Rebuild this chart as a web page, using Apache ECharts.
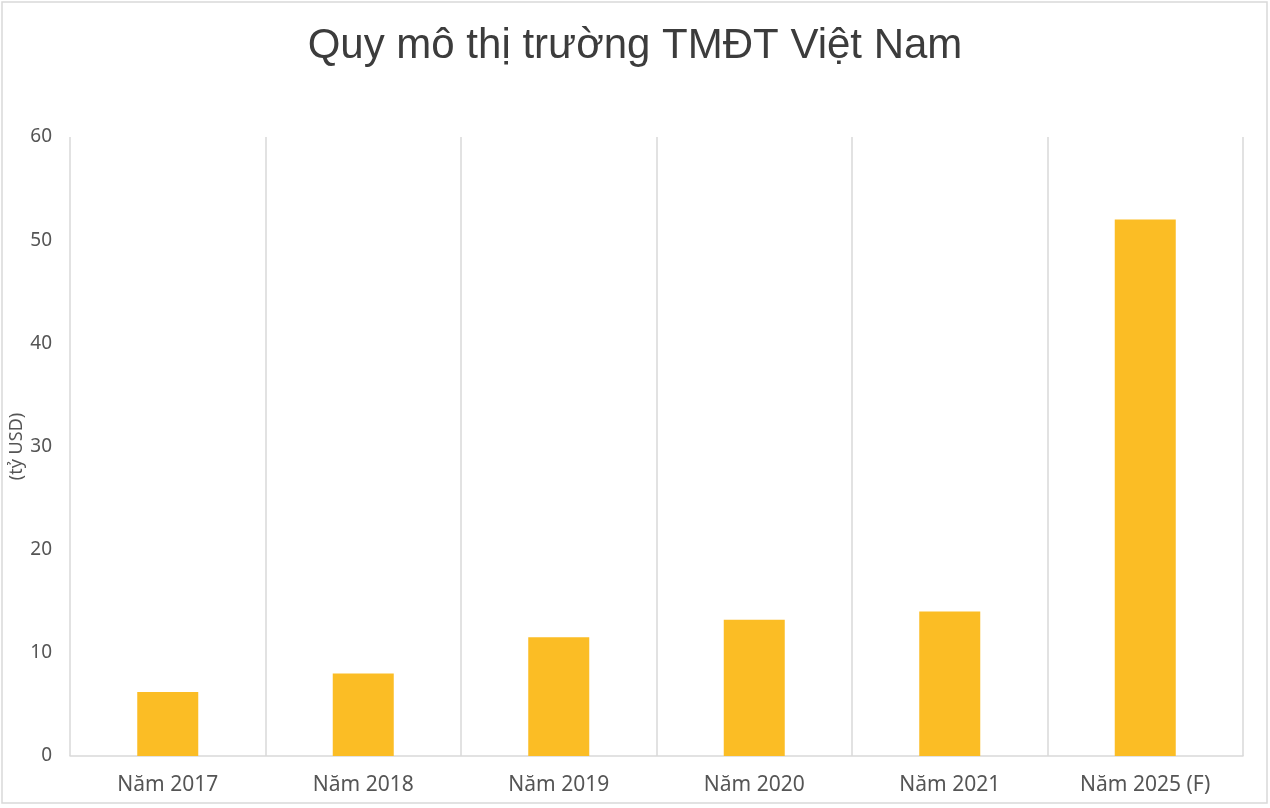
<!DOCTYPE html>
<html>
<head>
<meta charset="utf-8">
<title>Quy mô thị trường TMĐT Việt Nam</title>
<script src="https://cdn.jsdelivr.net/npm/echarts@6/dist/echarts.min.js"></script>
<style>
  html, body { margin: 0; padding: 0; background: #fff; }
  #main { width: 1270px; height: 808px; }
</style>
</head>
<body>
<div id="main"></div>
<script>
// data (tỷ USD)
const years = ['Năm 2017', 'Năm 2018', 'Năm 2019', 'Năm 2020', 'Năm 2021', 'Năm 2025 (F)'];
const marketSize = [6.2, 8.0, 11.5, 13.2, 14.0, 52.0];
const yTicks = [0, 10, 20, 30, 40, 50, 60];

let myChart = echarts.init(document.getElementById('main'));

const grey = '#555555';
const lineGrey = '#d9d9d9';

let option = {
    animation: false,
    backgroundColor: '#fff',
    title: {
        text: 'Quy mô thị trường TMĐT Việt Nam',
        left: 'center',
        top: 20,
        textStyle: {
            fontFamily: 'Liberation Sans, Arial, sans-serif',
            fontSize: 42,
            fontWeight: 'normal',
            color: '#3c3c3c'
        }
    },
    graphic: [{
        type: 'rect',
        shape: { x: 2, y: 2, width: 1265, height: 801 },
        style: { fill: 'none', stroke: lineGrey, lineWidth: 1.5 },
        silent: true
    }],
    grid: { left: 70, right: 27, top: 137, bottom: 52, outerBoundsMode: 'none', containLabel: false },
    xAxis: {
        type: 'category',
        data: years,
        axisLine: { lineStyle: { color: lineGrey, width: 1.5 } },
        axisTick: { show: false },
        splitLine: { show: true, lineStyle: { color: lineGrey, width: 1.5 } },
        axisLabel: {
            color: grey,
            fontFamily: 'Noto Sans, sans-serif',
            fontSize: 21,
            margin: 19
        }
    },
    yAxis: {
        type: 'value',
        min: yTicks[0],
        max: yTicks[yTicks.length - 1],
        interval: 10,
        name: '(tỷ USD)',
        nameLocation: 'middle',
        nameGap: 44,
        nameMoveOverlap: false,
        nameTextStyle: {
            color: grey,
            fontFamily: 'Noto Sans, sans-serif',
            fontSize: 18
        },
        axisLine: { show: false },
        axisTick: { show: false },
        splitLine: { show: false },
        axisLabel: {
            color: grey,
            fontFamily: 'Noto Sans, sans-serif',
            fontSize: 19,
            margin: 18
        }
    },
    series: [{
        type: 'bar',
        data: marketSize,
        barWidth: 61,
        itemStyle: { color: '#FBBD25' }
    }]
};

myChart.setOption(option);
</script>
</body>
</html>
